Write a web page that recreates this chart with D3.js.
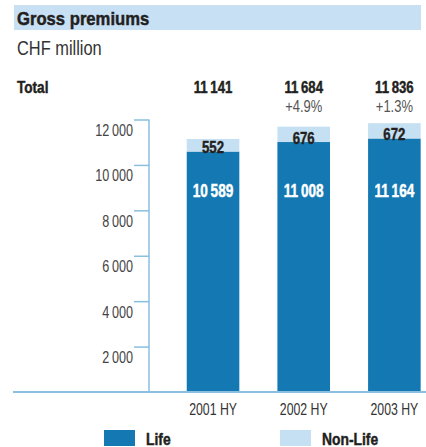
<!DOCTYPE html>
<html>
<head>
<meta charset="utf-8">
<script src="https://cdn.jsdelivr.net/npm/d3@7"></script>
<style>
  html, body { margin: 0; padding: 0; background: #fff; }
  svg { display: block; }
  text { font-family: "Liberation Sans", Arial, sans-serif; }
  text.heavy { stroke-width: 0.45px; }
</style>
</head>
<body>
<script>
var width = 426;
var height = 447;

// data (CHF million)
var years = ["2001 HY", "2002 HY", "2003 HY"];
var life = [10589, 11008, 11164];
var nonLife = [552, 676, 672];
var totals = [11141, 11684, 11836];
var growth = ["", "+4.9%", "+1.3%"];
var yTicks = [2000, 4000, 6000, 8000, 10000, 12000];

var lifeColor = "#1479b3";
var nonLifeColor = "#c5dff3";
var axisColor = "#8bbfe0";
var ink = "#231f20";
var squeeze = 0.8; // condensed look

function fmt(v) {
    return d3.format(",")(v).replace(",", "\u2009");
}

// place text with a horizontal squeeze, slightly taller
function put(sel, xf, yf, k) {
    k = k || squeeze;
    sel.attr("transform", function (d, i) {
        var xx = typeof xf === "function" ? xf(d, i) : xf;
        var yy = typeof yf === "function" ? yf(d, i) : yf;
        return "translate(" + xx + "," + yy + ") scale(" + k + ",1.04)";
    });
    return sel;
}

function heavy(sel, c) {
    return sel.attr("class", "heavy").attr("font-weight", "bold").attr("fill", c).attr("stroke", c);
}

var svg = d3.select("body").append("svg")
    .attr("width", width).attr("height", height);

// header
svg.append("rect").attr("x", 14).attr("y", 5).attr("width", 407).attr("height", 25)
    .attr("fill", "#c8e0f4");
put(heavy(svg.append("text").text("Gross premiums"), ink)
    .attr("font-size", "18.5px"), 17, 25, 0.9);
put(svg.append("text").text("CHF million")
    .attr("font-size", "20px").attr("fill", "#333"), 17, 55, 0.82);

var x = d3.scaleBand().domain(years).range([167.7, 439.7])
    .paddingInner(0.42).paddingOuter(0.21);
var y = d3.scaleLinear().domain([0, 12000]).range([392, 119.5]);

// y axis
var yAxis = d3.axisLeft(y).tickValues(yTicks).tickSize(15).tickFormat(fmt).tickPadding(1);
var gy = svg.append("g").attr("transform", "translate(149,0)").call(yAxis);
gy.select(".domain").remove();
gy.append("line").attr("x1", 0).attr("x2", 0).attr("y1", y(12000)).attr("y2", y(0));
gy.selectAll("line").attr("stroke", axisColor).attr("stroke-width", 1.5);
put(gy.selectAll(".tick text")
    .attr("font-size", "16px").attr("fill", "#444")
    .attr("font-family", null).attr("x", 0).attr("dy", null), -16, 16, 0.79);

// baseline
svg.append("line").attr("x1", 13).attr("x2", 426).attr("y1", y(0)).attr("y2", y(0))
    .attr("stroke", axisColor).attr("stroke-width", 2);

var idx = d3.range(years.length);

// bars
svg.selectAll("rect.life").data(idx).enter().append("rect").attr("class", "life")
    .attr("x", function (i) { return x(years[i]); })
    .attr("width", x.bandwidth())
    .attr("y", function (i) { return y(life[i]); })
    .attr("height", function (i) { return y(0) - y(life[i]) - 1; })
    .attr("fill", lifeColor);

svg.selectAll("rect.nonlife").data(idx).enter().append("rect").attr("class", "nonlife")
    .attr("x", function (i) { return x(years[i]); })
    .attr("width", x.bandwidth())
    .attr("y", function (i) { return y(life[i] + nonLife[i]); })
    .attr("height", function (i) { return y(life[i]) - y(life[i] + nonLife[i]); })
    .attr("fill", nonLifeColor);

function cx(i) { return x(years[i]) + x.bandwidth() / 2; }

// value labels
put(heavy(svg.selectAll("text.nl").data(idx).enter().append("text"), ink)
    .text(function (i) { return fmt(nonLife[i]); })
    .attr("text-anchor", "middle").attr("font-size", "16.5px"),
    cx, function (i) { return y(life[i]) + 1.5; });

put(heavy(svg.selectAll("text.lf").data(idx).enter().append("text"), "#fff")
    .text(function (i) { return fmt(life[i]); })
    .attr("text-anchor", "middle").attr("font-size", "17px"), cx, 197);

// totals
put(heavy(svg.append("text").text("Total"), ink)
    .attr("font-size", "16px"), 17, 93, 0.85);
put(heavy(svg.selectAll("text.tot").data(idx).enter().append("text"), ink)
    .text(function (i) { return fmt(totals[i]); })
    .attr("text-anchor", "middle").attr("font-size", "16.5px"), cx, 93);
put(svg.selectAll("text.gr").data(idx).enter().append("text").attr("class", "gr")
    .text(function (i) { return growth[i]; })
    .attr("text-anchor", "middle").attr("font-size", "16px").attr("fill", "#555"), cx, 111.5, 0.81);

// x labels
put(svg.selectAll("text.xl").data(idx).enter().append("text").attr("class", "xl")
    .text(function (i) { return years[i]; })
    .attr("text-anchor", "middle").attr("font-size", "15px").attr("fill", "#333"), cx, 414.5, 0.82);

// legend
var legend = [{ name: "Life", color: lifeColor, x: 104 }, { name: "Non-Life", color: nonLifeColor, x: 280 }];
var lg = svg.selectAll("g.lg").data(legend).enter().append("g")
    .attr("transform", function (d) { return "translate(" + d.x + ",430)"; });
lg.append("rect").attr("width", 31).attr("height", 16).attr("fill", function (d) { return d.color; });
put(heavy(lg.append("text"), ink).text(function (d) { return d.name; })
    .attr("font-size", "16.5px"), 42, 14.5, 0.84);
</script>
</body>
</html>
